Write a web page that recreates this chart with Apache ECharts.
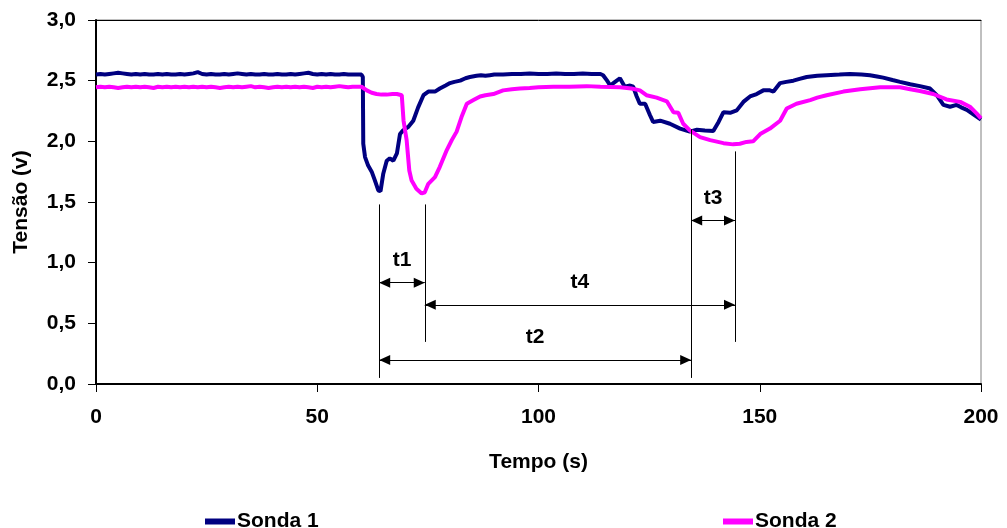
<!DOCTYPE html>
<html>
<head>
<meta charset="utf-8">
<script src="https://cdn.jsdelivr.net/npm/echarts@6/dist/echarts.min.js"></script>
<style>html,body{margin:0;padding:0;background:#fff}#c{width:1007px;height:528px}</style>
</head>
<body>
<div id="c"></div>
<script>
// ---- data ----
const flatTime = [0,1,2,3,4,5,6,7,8,9,10,11,12,13,14,15,16,17,18,19,20,21,22,23,24,25,26,27,28,29,30,31,32,33,34,35,36,37,38,39,40,41,42,43,44,45,46,47,48,49,50,51,52,53,54,55,56,57,58,59];
const sonda1Flat = [2.55,2.555,2.55,2.555,2.56,2.565,2.56,2.555,2.55,2.555,2.55,2.555,2.55,2.55,2.555,2.55,2.555,2.55,2.55,2.555,2.55,2.555,2.56,2.57,2.555,2.55,2.555,2.55,2.55,2.555,2.55,2.555,2.56,2.555,2.55,2.555,2.55,2.55,2.555,2.55,2.55,2.555,2.55,2.55,2.555,2.55,2.555,2.56,2.565,2.555,2.55,2.555,2.55,2.555,2.55,2.55,2.555,2.55,2.55,2.55];
const sonda2Flat = [2.445,2.45,2.445,2.45,2.445,2.44,2.445,2.45,2.445,2.45,2.445,2.45,2.445,2.44,2.45,2.445,2.45,2.445,2.45,2.445,2.45,2.445,2.45,2.445,2.45,2.445,2.45,2.445,2.44,2.445,2.45,2.445,2.45,2.445,2.45,2.455,2.445,2.45,2.445,2.44,2.445,2.45,2.445,2.45,2.445,2.45,2.445,2.45,2.445,2.44,2.45,2.445,2.45,2.445,2.45,2.455,2.45,2.445,2.45,2.45];

const sonda1Time = [60,60.3,60.4,60.8,61.5,62.3,63,63.8,64.3,64.9,65.7,66.4,67.2,68,68.7,69.4,70.6,71.7,72.8,74,75.1,76.6,77.7,79,80,81,82.3,83.5,84.5,86,87,88,89,90,92,94,96,98,100,102,104,106,108,110,112,114,114.6,115.5,116.2,117.3,118.4,119.5,120.7,121.4,122.2,122.9,124.1,125.2,125.9,127.5,129.7,132,134.2,135.8,137.6,139.5,140.7,141.8,143.3,144.8,146.3,147.8,149.3,150.8,152.3,153.1,154.6,156,157.6,159,160.6,163,165.1,168,170.4,173,174.9,176.5,177.9,180,181.7,184,186.2,188.5,190,191.5,193,194.5,195.5,196.8,198.6,200];
const sonda1Vals = [2.55,2.53,1.98,1.87,1.8,1.75,1.68,1.595,1.59,1.73,1.84,1.86,1.84,1.9,2.06,2.09,2.12,2.17,2.28,2.38,2.41,2.41,2.435,2.46,2.48,2.49,2.5,2.52,2.53,2.54,2.545,2.54,2.545,2.55,2.55,2.555,2.555,2.56,2.555,2.555,2.56,2.555,2.555,2.56,2.555,2.555,2.545,2.5,2.46,2.49,2.52,2.45,2.46,2.45,2.37,2.31,2.31,2.215,2.16,2.17,2.145,2.105,2.08,2.095,2.09,2.085,2.16,2.24,2.235,2.255,2.325,2.37,2.39,2.42,2.42,2.41,2.48,2.49,2.5,2.515,2.53,2.54,2.545,2.55,2.555,2.55,2.545,2.535,2.525,2.505,2.49,2.47,2.455,2.435,2.38,2.3,2.285,2.3,2.28,2.26,2.215,2.18];

const sonda2Time = [60,61.2,62.3,63.4,64.5,65.7,67,68,69.1,69.5,70.2,70.8,71.3,72.4,73.6,74.3,75.1,76.6,77.7,79.3,80.4,81.5,82.6,83.8,85.3,86.8,88,89.8,92,94,95.8,98,100,103.4,107,110.9,114,118.4,121,122.9,124.4,126.7,129,130.5,131.6,132.7,134.2,136.5,138.8,141.8,144,145.5,147,148.5,150.1,152.3,154.6,156.1,158.3,161.4,163,165.1,168.9,172.7,177.2,181.7,184,186.2,189.2,192.2,195.3,197.5,199,200];
const sonda2Vals = [2.45,2.42,2.4,2.39,2.385,2.385,2.39,2.39,2.38,2.17,2.01,1.76,1.68,1.61,1.57,1.58,1.65,1.705,1.79,1.93,2.01,2.08,2.2,2.31,2.34,2.37,2.38,2.39,2.42,2.43,2.435,2.44,2.445,2.45,2.45,2.455,2.45,2.445,2.435,2.42,2.38,2.36,2.33,2.24,2.235,2.145,2.09,2.035,2.01,1.985,1.975,1.98,1.995,2,2.06,2.105,2.17,2.27,2.31,2.34,2.36,2.38,2.41,2.43,2.445,2.445,2.43,2.415,2.39,2.345,2.325,2.285,2.23,2.19];

// annotation: marker times (s) and their vertical extents (V)
const markTimes = [64, 74.3, 134.5, 144.4];
const markTop = [1.48, 1.48, 2.10, 1.917];
const markBottom = [0.05, 0.347, 0.05, 0.347];
// arrows: [label, startMarker, endMarker, level (V)]
const arrowNames = ['t1', 't4', 't2', 't3'];
const arrowFrom = [0, 1, 0, 2];
const arrowTo = [1, 3, 2, 3];
const arrowLevel = [0.835, 0.653, 0.198, 1.347];

const yTicks = ['0,0','0,5','1,0','1,5','2,0','2,5','3,0'];

// ---- build ----
const zip = (a, b) => a.map((v, i) => [v, b[i]]);
const s1 = zip(flatTime, sonda1Flat).concat(zip(sonda1Time, sonda1Vals));
const s2 = zip(flatTime, sonda2Flat).concat(zip(sonda2Time, sonda2Vals));

const FONT = 'Liberation Sans';
const txt = {fontFamily: FONT, fontWeight: 'bold', fontSize: 21, color: '#000'};

const vLines = markTimes.map((t, i) => [
  {coord: [t, markTop[i]], symbol: 'none'},
  {coord: [t, markBottom[i]], symbol: 'none'}
]);
const arrows = arrowNames.map((n, i) => [
  {coord: [markTimes[arrowFrom[i]], arrowLevel[i]], label: {show: true, formatter: n}},
  {coord: [markTimes[arrowTo[i]], arrowLevel[i]]}
]);

const chart = echarts.init(document.getElementById('c'), null, {renderer: 'canvas'});
chart.setOption({
  animation: false,
  backgroundColor: '#fff',
  grid: {left: 96, right: 26, top: 20, bottom: 144, show: true, borderColor: '#808080', borderWidth: 1},
  legend: [
    {data: ['Sonda 1'], left: 200, top: 506, itemWidth: 30, itemHeight: 6, icon: 'rect', itemGap: 4, textStyle: Object.assign({}, txt, {padding: [0,0,0,-3]})},
    {data: ['Sonda 2'], left: 718, top: 506, itemWidth: 30, itemHeight: 6, icon: 'rect', itemGap: 4, textStyle: Object.assign({}, txt, {padding: [0,0,0,-3]})}
  ],
  xAxis: [{
    type: 'value', min: 0, max: 200, interval: 50,
    name: 'Tempo (s)', nameLocation: 'middle', nameGap: 68, nameTextStyle: txt,
    axisLine: {show: true, lineStyle: {color: '#000', width: 2}},
    axisTick: {show: true, inside: false, length: 8, lineStyle: {color: '#000', width: 1}},
    axisLabel: Object.assign({}, txt, {margin: 23}),
    splitLine: {show: false}
  }, {
    type: 'value', position: 'top', min: 0, max: 200,
    axisLine: {show: true, onZero: false, lineStyle: {color: '#000', width: 1}},
    axisTick: {show: false}, axisLabel: {show: false}, splitLine: {show: false}
  }],
  yAxis: {
    type: 'value', min: 0, max: 3, interval: 0.5,
    name: 'Tensão (v)', nameLocation: 'middle', nameGap: 64, nameRotate: 90, nameTextStyle: txt,
    axisLine: {show: true, lineStyle: {color: '#000', width: 2}},
    axisTick: {show: true, inside: false, length: 8, lineStyle: {color: '#000', width: 1}},
    axisLabel: Object.assign({}, txt, {margin: 20, formatter: (v) => yTicks[Math.round(v / 0.5)]}),
    splitLine: {show: false}
  },
  series: [
    {name: 'Sonda 1', type: 'line', data: s1, showSymbol: false, symbol: 'none', color: '#000080',
     lineStyle: {color: '#000080', width: 4}},
    {name: 'Sonda 2', type: 'line', data: s2, showSymbol: false, symbol: 'none', color: '#FF00FF',
     lineStyle: {color: '#FF00FF', width: 4}},
    {name: 'annot', type: 'line', data: [], silent: true,
     markLine: {
       silent: true, animation: false,
       symbol: ['triangle', 'triangle'], symbolSize: [10, 11],
       symbolOffset: [[0, 5.5], [0, 5.5]],
       lineStyle: {color: '#000', width: 1, type: 'solid'},
       label: Object.assign({}, txt, {show: false, position: 'middle', distance: 12}),
       emphasis: {disabled: true},
       data: vLines.concat(arrows)
     }}
  ]
});
</script>
</body>
</html>
